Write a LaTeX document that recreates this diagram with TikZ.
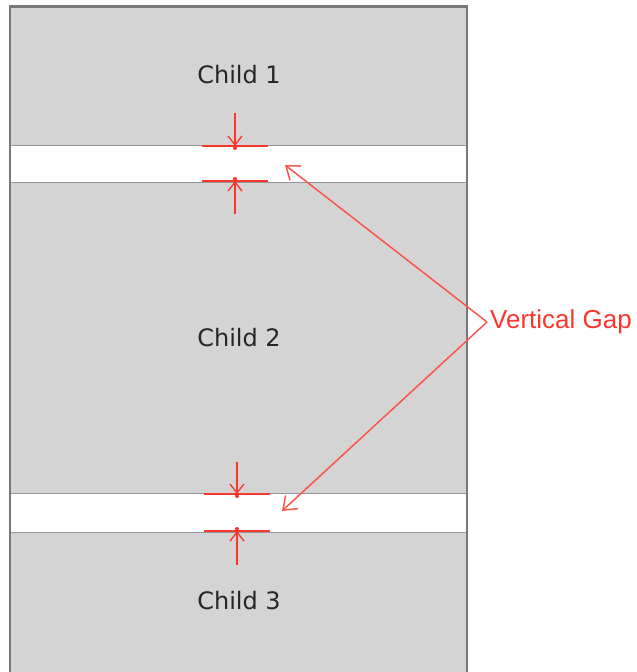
\documentclass[tikz,border=0pt]{standalone}
\usepackage{fontspec}
\setmainfont{DejaVu Sans}
\newfontfamily\arialfont{Liberation Sans}
\usetikzlibrary{arrows.meta}
\definecolor{boxgray}{RGB}{212,212,212}
\definecolor{edgegray}{RGB}{120,120,120}
\definecolor{linegray}{RGB}{150,150,150}
\definecolor{gapred}{RGB}{250,55,45}
\tikzset{
  childlabel/.style={font=\fontsize{24}{27}\selectfont, text=black!85, inner sep=0pt},
  gaplabel/.style={font=\arialfont\fontsize{26}{29}\selectfont, text=gapred, inner sep=0pt, anchor=west},
  bar/.style={draw=gapred, line width=2pt},
  pointer/.style={color=gapred, line width=1.5pt, -{Straight Barb[length=9pt,width=14pt,line width=1.3pt]}},
  tipdot/.style={fill=gapred, circle, inner sep=0pt, minimum size=4pt},
  callout/.style={color=gapred!85, line width=1.5pt, -{Straight Barb[length=12pt,width=18pt,line width=1.5pt]}},
  gapline/.style={draw=linegray, line width=1pt}
}
\begin{document}
\begin{tikzpicture}[x=1pt,y=-1pt]
\useasboundingbox (0,0) rectangle (637,672);
\fill[white] (0,0) rectangle (637,672);
% gray body
\fill[boxgray] (9,6) rectangle (467,672);
% gaps
\fill[white] (10,145) rectangle (466.5,182);
\fill[white] (10,493) rectangle (466.5,532);
\draw[gapline] (10,145) -- (466.5,145);
\draw[gapline] (10,182) -- (466.5,182);
\draw[gapline] (10,493) -- (466.5,493);
\draw[gapline] (10,532) -- (466.5,532);
% border
\draw[edgegray, line width=2.5pt] (10,672) -- (10,6.5) -- (467,6.5) -- (467,672);
% labels
\node[childlabel] (child1) at (239,75) {Child 1};
\node[childlabel] (child2) at (239,338) {Child 2};
\node[childlabel] (child3) at (239,601) {Child 3};
\node[gaplabel] (gap) at (490,322) {Vertical Gap};
% gap 1 markers
\coordinate (g1tl) at (202,146); \coordinate (g1tr) at (268,146);
\coordinate (g1bl) at (202,181); \coordinate (g1br) at (268,181);
\coordinate (g1top) at (235,113); \coordinate (g1topend) at (235,146);
\coordinate (g1bot) at (235,214); \coordinate (g1botend) at (235,181);
\draw[bar] (g1tl) -- (g1tr);
\draw[bar] (g1bl) -- (g1br);
\draw[pointer] (g1top) -- (g1topend);
\draw[pointer] (g1bot) -- (g1botend);
\node[tipdot] at ([yshift=-2pt]g1topend) {};
\node[tipdot] at ([yshift=2pt]g1botend) {};
% gap 2 markers
\coordinate (g2tl) at (204,494); \coordinate (g2tr) at (270,494);
\coordinate (g2bl) at (204,531); \coordinate (g2br) at (270,531);
\coordinate (g2top) at (237,462); \coordinate (g2topend) at (237,494);
\coordinate (g2bot) at (237,565); \coordinate (g2botend) at (237,531);
\draw[bar] (g2tl) -- (g2tr);
\draw[bar] (g2bl) -- (g2br);
\draw[pointer] (g2top) -- (g2topend);
\draw[pointer] (g2bot) -- (g2botend);
\node[tipdot] at ([yshift=-2pt]g2topend) {};
\node[tipdot] at ([yshift=2pt]g2botend) {};
% callouts
\coordinate (tip1) at (285,165);
\coordinate (tip2) at (282,511);
\draw[callout] ([xshift=-3pt]gap.west) -- (tip1);
\draw[callout] ([xshift=-3pt]gap.west) -- (tip2);
\end{tikzpicture}
\end{document}
